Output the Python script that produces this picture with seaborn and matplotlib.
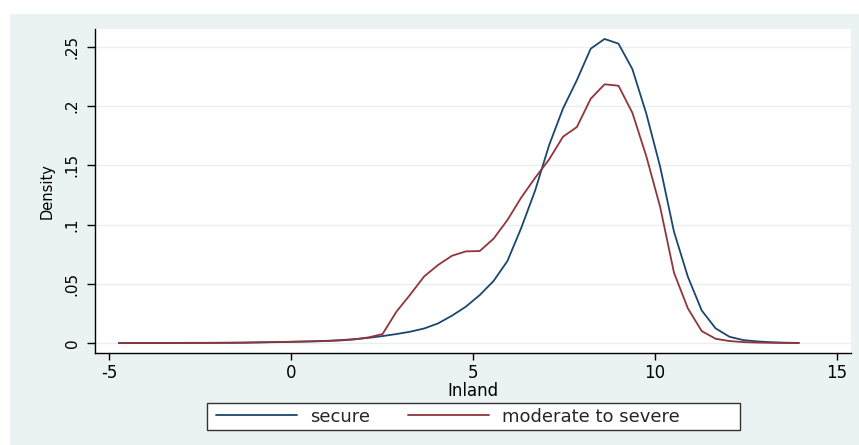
import matplotlib
matplotlib.use("Agg")
import matplotlib.pyplot as plt
from matplotlib.patches import Rectangle
import pandas as pd
import seaborn as sns

# Kernel density estimates of Inland, evaluated on a common grid
inland = [-4.730, -4.349, -3.967, -3.586, -3.205, -2.823, -2.442, -2.061, -1.680, -1.298,
          -0.917, -0.536, -0.154, 0.227, 0.608, 0.990, 1.371, 1.752, 2.133, 2.515,
          2.896, 3.277, 3.659, 4.040, 4.421, 4.803, 5.184, 5.565, 5.946, 6.328,
          6.709, 7.090, 7.472, 7.853, 8.234, 8.615, 8.997, 9.378, 9.759, 10.141,
          10.522, 10.903, 11.284, 11.666, 12.047, 12.428, 12.810, 13.191, 13.572, 13.953]

density_secure = [0.0000, 0.0000, 0.0000, 0.0000, 0.0001, 0.0001, 0.0001, 0.0002, 0.0002, 0.0003,
                  0.0005, 0.0007, 0.0009, 0.0012, 0.0015, 0.0019, 0.0025, 0.0033, 0.0044, 0.0059,
                  0.0076, 0.0096, 0.0123, 0.0166, 0.0231, 0.0307, 0.0405, 0.0524, 0.0693, 0.0974,
                  0.1290, 0.1670, 0.1980, 0.2220, 0.2486, 0.2568, 0.2528, 0.2314, 0.1940, 0.1490,
                  0.0940, 0.0560, 0.0275, 0.0124, 0.0053, 0.0025, 0.0014, 0.0007, 0.0003, 0.0001]

density_moderate = [0.0001, 0.0001, 0.0001, 0.0001, 0.0001, 0.0002, 0.0002, 0.0002, 0.0003, 0.0004,
                    0.0006, 0.0008, 0.0010, 0.0012, 0.0014, 0.0017, 0.0022, 0.0031, 0.0048, 0.0076,
                    0.0265, 0.0410, 0.0563, 0.0659, 0.0737, 0.0774, 0.0777, 0.0881, 0.1039, 0.1230,
                    0.1396, 0.1550, 0.1742, 0.1824, 0.2063, 0.2185, 0.2173, 0.1945, 0.1580, 0.1150,
                    0.0594, 0.0293, 0.0101, 0.0036, 0.0017, 0.0008, 0.0004, 0.0002, 0.0001, 0.0001]

groups = ["secure", "moderate to severe"]
colors = ["#1a476f", "#90353b"]

x_ticks = [-5, 0, 5, 10, 15]
x_tick_labels = ["-5", "0", "5", "10", "15"]
y_ticks = [0, 0.05, 0.10, 0.15, 0.20, 0.25]
y_tick_labels = ["0", ".05", ".1", ".15", ".2", ".25"]

df = pd.concat([
    pd.DataFrame({"Inland": inland, "Density": density_secure, "group": groups[0]}),
    pd.DataFrame({"Inland": inland, "Density": density_moderate, "group": groups[1]}),
], ignore_index=True)

sns.set_theme(style="white")
plt.rcParams["font.family"] = ["DejaVu Sans"]

W, H = 859, 445
fig = plt.figure(figsize=(W / 100, H / 100), dpi=100, facecolor="white")

# outer graph region
fig.patches.append(Rectangle((10 / W, 0), (W - 10) / W, (H - 14) / H,
                             transform=fig.transFigure, facecolor="#eaf2f3",
                             edgecolor="none", zorder=-1))

ax = fig.add_axes([95 / W, (H - 353) / H, (851 - 95) / W, (353 - 29) / H])
ax.set_facecolor("white")

sns.lineplot(data=df, x="Inland", y="Density", hue="group", hue_order=groups,
             palette=colors, linewidth=1.3, legend=False, ax=ax, zorder=3)

ax.set_xlim(-5.385, 15.385)
ax.set_ylim(-0.0084, 0.2652)

ax.set_xticks(x_ticks)
ax.set_xticklabels(x_tick_labels, fontsize=12)
ax.set_yticks(y_ticks)
ax.set_yticklabels(y_tick_labels, fontsize=11, rotation=90, va="center")

ax.set_axisbelow(True)
ax.grid(axis="y", color="#e6eff1", lw=1.0)
ax.grid(axis="x", visible=False)

ax.tick_params(axis="x", direction="out", length=5, width=1, color="black", pad=3,
               labelcolor="black", bottom=True)
ax.tick_params(axis="y", direction="out", length=6, width=1, color="black", pad=5,
               labelcolor="black", left=True)

for side in ["top", "right"]:
    ax.spines[side].set_visible(False)
for side in ["left", "bottom"]:
    ax.spines[side].set_color("black")
    ax.spines[side].set_linewidth(1.0)

ax.set_xlabel("Inland", fontsize=12, color="black", labelpad=0)
ax.set_ylabel("Density", fontsize=10.5, color="black", labelpad=7)

# legend box below the plot
fig.patches.append(Rectangle((207 / W, (H - 429.5) / H), (740 - 207) / W, 27 / H,
                             transform=fig.transFigure, facecolor="white",
                             edgecolor="#333333", lw=1.0, zorder=2))
handles = ax.get_lines()[:2]
fig.legend(handles, groups, loc="center left",
           bbox_to_anchor=(216 / W, (H - 416.5) / H), ncol=2, frameon=False,
           fontsize=13, handlelength=4.5, handletextpad=0.72, columnspacing=2.1,
           borderpad=0, borderaxespad=0)

fig.savefig("out.png", dpi=100, facecolor="white")
